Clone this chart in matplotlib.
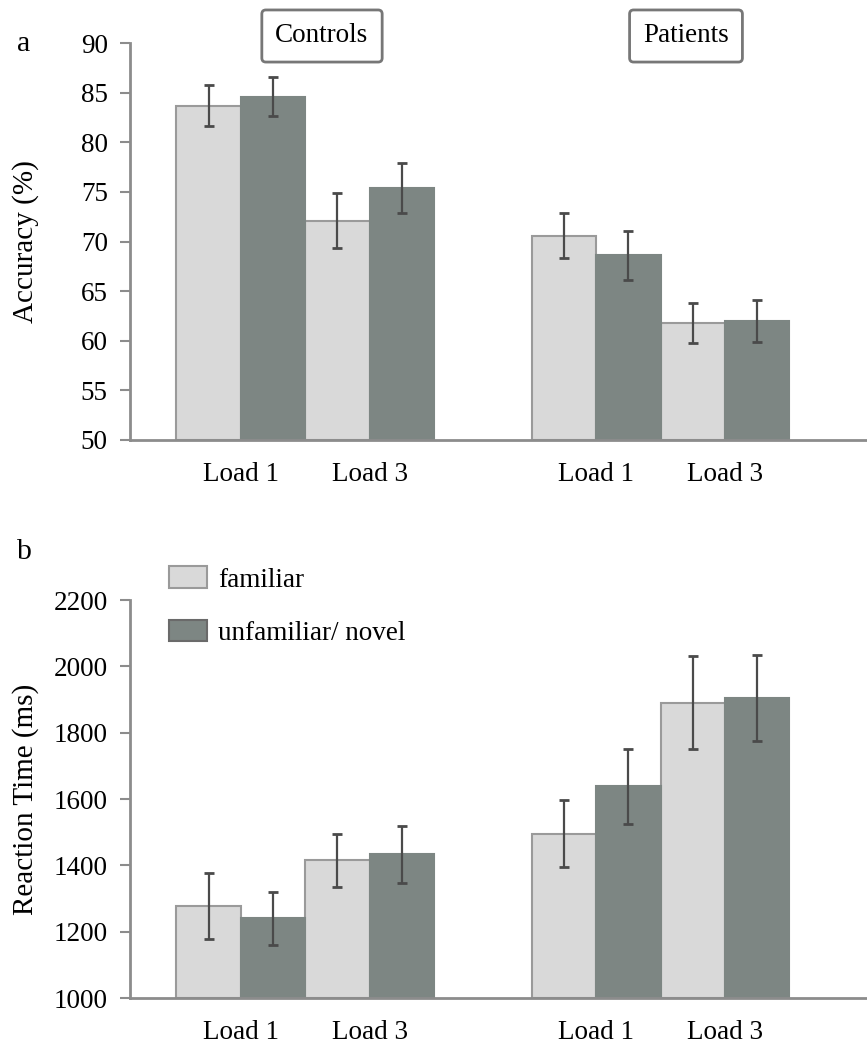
import matplotlib
matplotlib.use("Agg")
import matplotlib.pyplot as plt
from matplotlib.patches import Patch
from matplotlib.transforms import blended_transform_factory

plt.rcParams['font.family'] = ['Liberation Serif', 'DejaVu Serif']

loads = ['Load 1', 'Load 3', 'Load 1', 'Load 3']   # Controls, Controls, Patients, Patients
groups = ['Controls', 'Patients']
series = ['familiar', 'unfamiliar/ novel']

# panel a: accuracy (%)
acc_fam = [83.7, 72.1, 70.6, 61.8]
acc_unf = [84.6, 75.4, 68.6, 62.0]
acc_fam_err = [2.1, 2.8, 2.3, 2.0]
acc_unf_err = [2.0, 2.5, 2.5, 2.1]

# panel b: reaction time (ms)
rt_fam = [1278, 1415, 1495, 1890]
rt_unf = [1240, 1433, 1638, 1905]
rt_fam_err = [100, 80, 101, 140]
rt_unf_err = [80, 85, 112, 130]

light = '#d9d9d9'
dark = '#7d8683'
edge = '#9a9a9a'
axcol = '#8c8c8c'

centers = [1.72, 3.72, 7.24, 9.24]
w = 1.0
fs = 19.5

fig = plt.figure(figsize=(8.67, 10.5), dpi=100)
ax1 = fig.add_axes([0.150, 0.581, 0.849, 0.378])
ax2 = fig.add_axes([0.150, 0.0495, 0.849, 0.379])


def draw(ax, fam, unf, ferr, uerr, ylim, step, ylabel):
    xf = [c - w / 2 for c in centers]
    xu = [c + w / 2 for c in centers]
    ax.bar(xf, [v - ylim[0] for v in fam], width=w, bottom=ylim[0],
           color=light, edgecolor=edge, linewidth=1.5, label=series[0])
    ax.bar(xu, [v - ylim[0] for v in unf], width=w, bottom=ylim[0],
           color=dark, edgecolor=dark, linewidth=1.5, label=series[1])
    ax.errorbar(xf, fam, yerr=ferr, fmt='none', ecolor='#4a4a4a',
                elinewidth=1.6, capsize=3.5, capthick=2)
    ax.errorbar(xu, unf, yerr=uerr, fmt='none', ecolor='#4a4a4a',
                elinewidth=1.6, capsize=3.5, capthick=2)
    ax.set_xlim(0, 11.43)
    ax.set_ylim(*ylim)
    ax.set_yticks(range(ylim[0], ylim[1] + 1, step))
    ax.set_xticks(centers)
    ax.set_xticklabels(loads, fontsize=fs)
    ax.tick_params(axis='x', length=0, pad=16)
    ax.tick_params(axis='y', length=7, width=1.5, color=axcol, labelsize=fs, pad=9)
    for s in ['top', 'right']:
        ax.spines[s].set_visible(False)
    for s in ['left', 'bottom']:
        ax.spines[s].set_color(axcol)
        ax.spines[s].set_linewidth(2)
    ax.set_ylabel(ylabel, fontsize=fs + 1.5, va='center')
    ax.yaxis.set_label_coords(26 / 867, 0.5,
                              transform=blended_transform_factory(fig.transFigure, ax.transAxes))


draw(ax1, acc_fam, acc_unf, acc_fam_err, acc_unf_err, (50, 90), 5, 'Accuracy (%)')
draw(ax2, rt_fam, rt_unf, rt_fam_err, rt_unf_err, (1000, 2200), 200, 'Reaction Time (ms)')

fig.text(0.02, 1 - 44 / 1050, 'a', fontsize=fs + 2, va='center')
fig.text(0.02, 1 - 552 / 1050, 'b', fontsize=fs + 2, va='center')

box = dict(boxstyle='round,pad=0.5,rounding_size=0.15', facecolor='white',
           edgecolor='#777777', linewidth=2)
fig.text(322 / 867, 1 - 36 / 1050, groups[0], fontsize=fs, ha='center', va='center', bbox=box)
fig.text(686 / 867, 1 - 36 / 1050, groups[1], fontsize=fs, ha='center', va='center', bbox=box)

handles = [Patch(facecolor=light, edgecolor=edge, linewidth=1.5),
           Patch(facecolor=dark, edgecolor='#6a6a6a', linewidth=1.5)]
ax2.legend(handles, series, loc='upper left', bbox_to_anchor=(145 / 867, 1 - 542 / 1050),
           bbox_transform=fig.transFigure, frameon=False, fontsize=fs,
           handlelength=1.4, handleheight=0.85, labelspacing=1.0, handletextpad=0.4)

fig.savefig('out.png', dpi=100)
